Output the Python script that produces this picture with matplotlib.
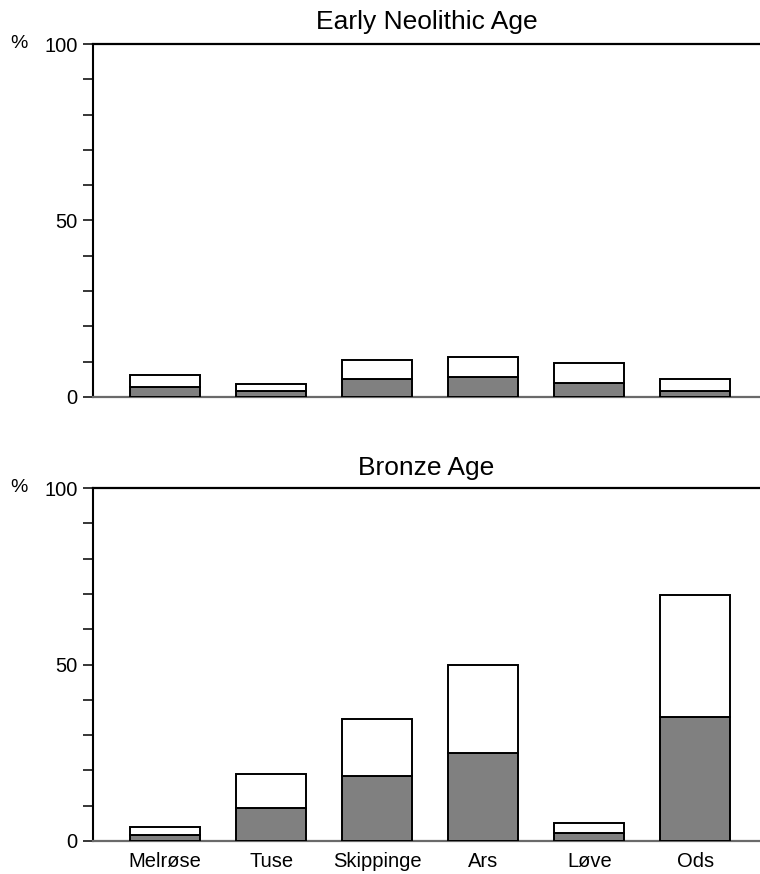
import matplotlib
matplotlib.use("Agg")
import matplotlib.pyplot as plt
import matplotlib.transforms as mtransforms
from matplotlib.ticker import MultipleLocator, FixedLocator

plt.rcParams['font.family'] = ['Liberation Sans', 'DejaVu Sans']

sites = ["Melrøse", "Tuse", "Skippinge", "Ars", "Løve", "Ods"]
early_total = [6.1, 3.8, 10.6, 11.3, 9.6, 5.2]
early_grey = [2.7, 1.6, 5.0, 5.7, 4.0, 1.7]
bronze_total = [4.0, 18.9, 34.6, 49.9, 5.0, 69.8]
bronze_grey = [1.6, 9.3, 18.4, 25.0, 2.2, 35.0]
titles = ["Early Neolithic Age", "Bronze Age"]
yticks_major = [0, 50, 100]

fig = plt.figure(figsize=(7.6, 8.74), dpi=100)
ax_top = fig.add_axes([93/760, 1-397/874, 667/760, 353/874])
ax_bot = fig.add_axes([93/760, 1-841/874, 667/760, 353/874])

x = list(range(len(sites)))
grey = "#808080"

for ax, tot, gr, title, show_labels, pad in [
    (ax_top, early_total, early_grey, titles[0], False, 11),
    (ax_bot, bronze_total, bronze_grey, titles[1], True, 9),
]:
    upper = [t - g for t, g in zip(tot, gr)]
    ax.bar(x, gr, width=0.66, color=grey, edgecolor="black", linewidth=1.4, zorder=3)
    ax.bar(x, upper, bottom=gr, width=0.66, color="white", edgecolor="black", linewidth=1.4, zorder=3)
    ax.set_xlim(-0.68, 5.61)
    ax.set_ylim(0, 100)
    ax.yaxis.set_major_locator(FixedLocator(yticks_major))
    ax.yaxis.set_minor_locator(MultipleLocator(10))
    ax.tick_params(axis="y", which="both", direction="out", length=7, width=1.1,
                   labelsize=14.5, pad=4, color="black")
    ax.spines["right"].set_visible(False)
    ax.spines["left"].set_linewidth(1.5)
    ax.spines["top"].set_linewidth(1.6)
    ax.spines["bottom"].set_linewidth(1.6)
    ax.spines["bottom"].set_color("#6a6a6a")
    ax.set_title(title, fontsize=19, pad=pad)
    ax.set_xticks(x)
    if show_labels:
        ax.set_xticklabels(sites, fontsize=14.5)
        ax.tick_params(axis="x", length=0, pad=8)
    else:
        ax.set_xticklabels([])
        ax.tick_params(axis="x", length=0)
    trans = mtransforms.blended_transform_factory(ax.transAxes, ax.transData)
    ax.text(-0.124, 100, "%", transform=trans, ha="left", va="center", fontsize=14)

fig.savefig("out.png", dpi=100)
